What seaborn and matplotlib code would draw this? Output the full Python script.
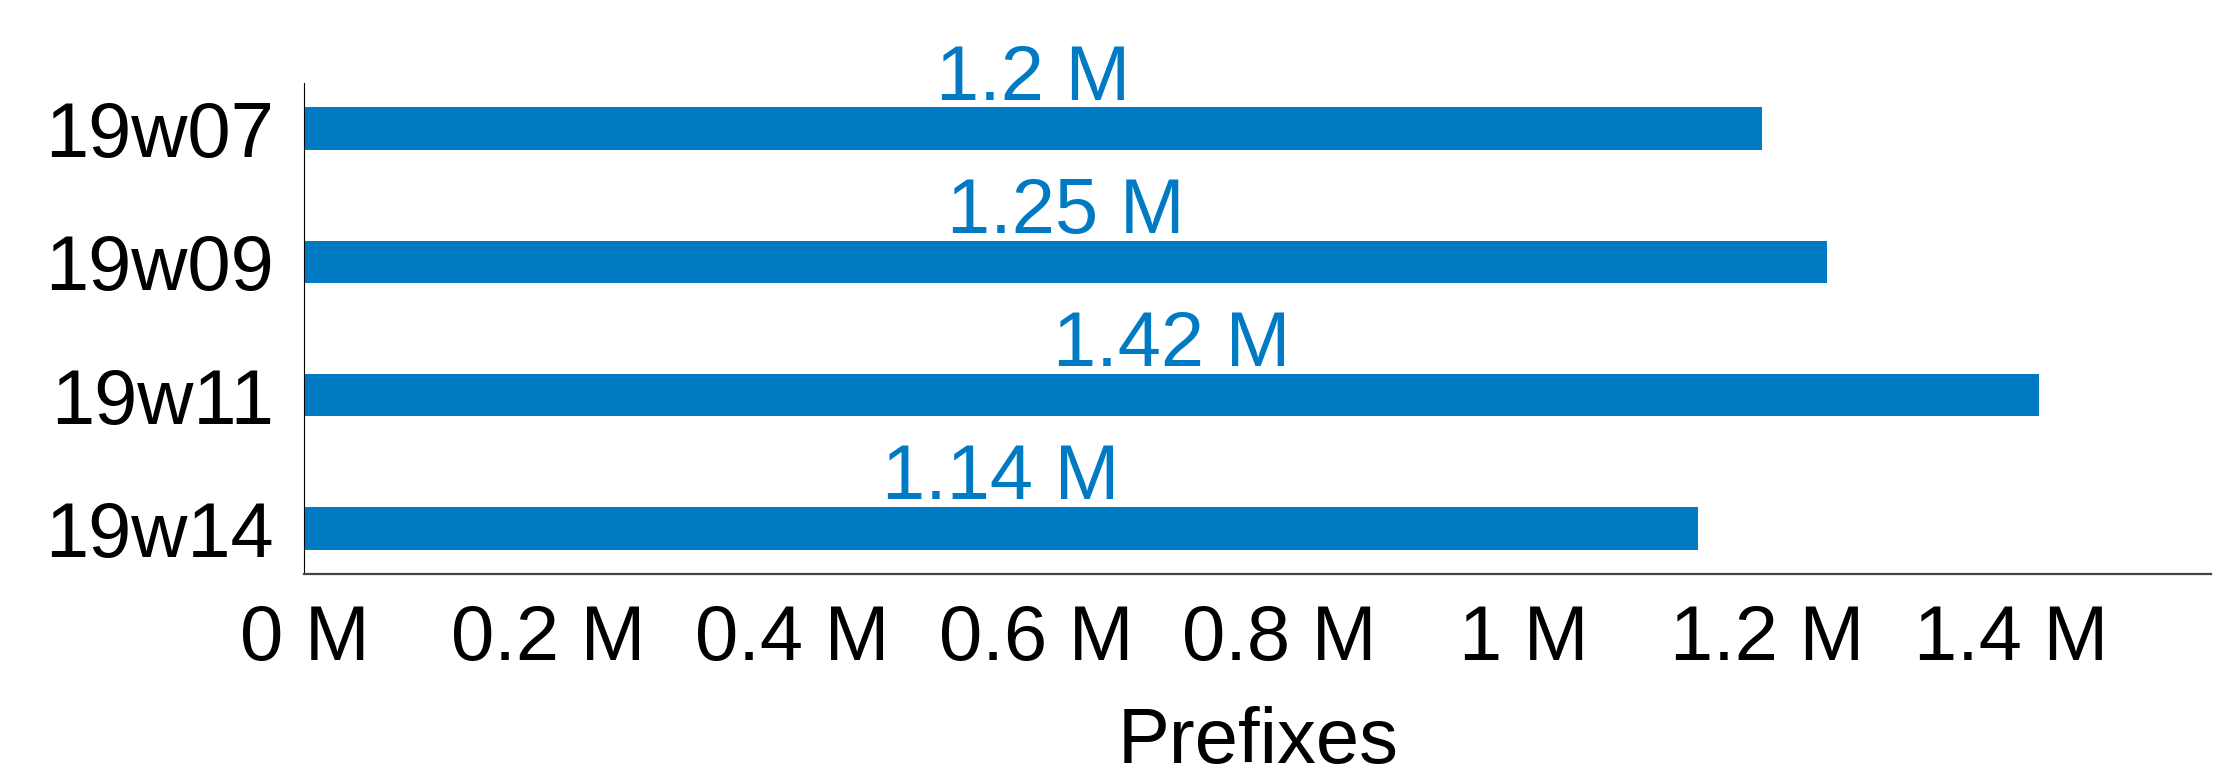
import matplotlib
matplotlib.use("Agg")
import matplotlib.pyplot as plt
import seaborn as sns
import pandas as pd

# ---- data ----
categories = ["19w07", "19w09", "19w11", "19w14"]
prefixes = [1_196_000, 1_249_000, 1_423_000, 1_143_000]
value_labels = ["1.2 M", "1.25 M", "1.42 M", "1.14 M"]
x_ticks = [0, 200_000, 400_000, 600_000, 800_000, 1_000_000, 1_200_000, 1_400_000]
x_tick_labels = ["0 M", "0.2 M", "0.4 M", "0.6 M", "0.8 M", "1 M", "1.2 M", "1.4 M"]
x_label = "Prefixes"

BLUE = "#007ac2"
FS = 56

sns.set_style("white")
plt.rcParams["font.family"] = ["Liberation Sans", "DejaVu Sans"]

fig = plt.figure(figsize=(22.2, 7.82), dpi=100)
ax = fig.add_axes([0.1371, 0.2656, 0.8589, 0.6286])

df = pd.DataFrame({"week": categories, "prefixes": prefixes})
sns.barplot(data=df, x="prefixes", y="week", orient="h", color=BLUE,
            saturation=1, width=0.32, linewidth=0, ax=ax)

ax.set_xlim(0, 1_564_000)
ax.set_ylim(3.344, -0.344)

for s in ["top", "right"]:
    ax.spines[s].set_visible(False)
ax.spines["left"].set_color("black")
ax.spines["left"].set_linewidth(0.8)
ax.spines["bottom"].set_color("#444444")
ax.spines["bottom"].set_linewidth(1.6)

ax.set_xticks(x_ticks)
ax.set_xticklabels(x_tick_labels)
ax.tick_params(axis="both", length=0, labelsize=FS, colors="black")
ax.tick_params(axis="x", pad=21)
ax.tick_params(axis="y", pad=22)

ax.set_ylabel("")
ax.set_xlabel(x_label, fontsize=FS, color="black")
ax.xaxis.label.set_va("baseline")
ax.xaxis.set_label_coords(0.5, -0.384)

for i, (v, t) in enumerate(zip(prefixes, value_labels)):
    ax.annotate(t, xy=(v / 2, i - 0.16), xytext=(0, 5.5), textcoords="offset points",
                ha="center", va="baseline", color=BLUE, fontsize=FS)

fig.savefig("out.png", dpi=100)
